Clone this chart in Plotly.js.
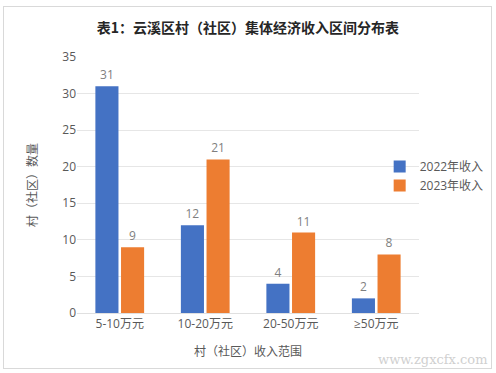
<!DOCTYPE html>
<html><head><meta charset="utf-8">
<script src="https://cdn.plot.ly/plotly-3.0.1.min.js"></script>
<style>
html,body{margin:0;padding:0;background:#fff;}
#frame{position:absolute;left:3px;top:6px;width:487px;height:361px;border:1px solid #d9d9d9;}
#chart{position:absolute;left:0;top:0;width:496px;height:373px;}
</style></head>
<body>
<div id="frame"></div>
<div id="chart"></div>
<script>
const categories = ['5-10万元', '10-20万元', '20-50万元', '≥50万元'];
const values2022 = [31, 12, 4, 2];
const values2023 = [9, 21, 11, 8];
const seriesNames = ['2022年收入', '2023年收入'];
const yTicks = [0, 5, 10, 15, 20, 25, 30, 35];

const FONT = '"Open Sans", "Noto Sans CJK SC", sans-serif';
const GRAY = '#595959';

const traces = [
  {type:'bar', name:seriesNames[0], x:categories, y:values2022, marker:{color:'#4472C4'},
   text:values2022.map(String), textposition:'outside', cliponaxis:false,
   textfont:{color:'#7f7f7f', size:12, family:FONT}},
  {type:'bar', name:seriesNames[1], x:categories, y:values2023, marker:{color:'#ED7D31'},
   text:values2023.map(String), textposition:'outside', cliponaxis:false,
   textfont:{color:'#7f7f7f', size:12, family:FONT}}
];

const layout = {
  width:496, height:373,
  margin:{l:77, r:77, t:57, b:60, autoexpand:false},
  paper_bgcolor:'rgba(0,0,0,0)', plot_bgcolor:'rgba(0,0,0,0)',
  font:{family:FONT, color:GRAY, size:12},
  title:{text:'<b>表1：云溪区村（社区）集体经济收入区间分布表</b>', x:0.5, xanchor:'center', y:0.925, yanchor:'middle',
         font:{family:'"Noto Sans CJK SC", sans-serif', size:14, color:'#262626'}},
  barmode:'group', bargap:0.4, bargroupgap:0.1,
  xaxis:{type:'category', showline:true, linecolor:'#e0e0e0', ticks:'', tickfont:{size:12, color:GRAY},
         title:{text:'村（社区）收入范围', font:{size:12, color:GRAY}, standoff:16}},
  yaxis:{range:[0,35], tickvals:yTicks, showgrid:true, gridcolor:'#e6e6e6', zeroline:false, showline:false,
         tickfont:{size:12, color:GRAY}, ticks:'', ticklen:0,
         title:{text:'村（社区）数量', font:{size:12, color:GRAY}, standoff:22}},
  legend:{x:0.885, xanchor:'left', y:0.535, yanchor:'middle', bgcolor:'rgba(0,0,0,0)',
          font:{size:12, color:GRAY}, itemwidth:30, tracegroupgap:0},
  annotations:[
    {text:'www.zgxcfx.com', xref:'paper', yref:'paper', x:1.205, y:-0.18, xanchor:'right', yanchor:'middle',
     showarrow:false, font:{family:'"DejaVu Serif", serif', size:13, color:'#d0d0d0'}}
  ]
};

Plotly.newPlot('chart', traces, layout, {displayModeBar:false, staticPlot:true});
</script>
</body></html>
